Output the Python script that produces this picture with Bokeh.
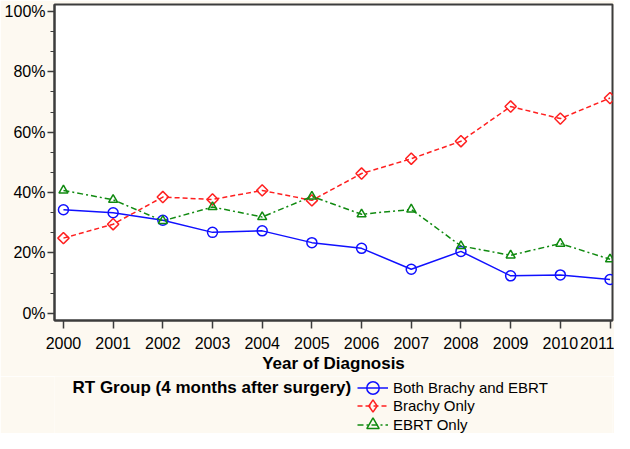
import math
from bokeh.plotting import figure
from bokeh.layouts import column
from bokeh.models import Legend, LegendItem, FixedTicker, Range1d, CustomJSTickFormatter, Label
from bokeh.embed import file_html
from bokeh.resources import INLINE

years = list(range(2000, 2012))
both = [34.3, 33.3, 30.8, 26.8, 27.3, 23.4, 21.5, 14.6, 20.5, 12.4, 12.7, 11.2]
brachy = [24.9, 29.5, 38.5, 37.7, 40.7, 37.4, 46.3, 51.2, 57.0, 68.5, 64.5, 71.3]
ebrt = [40.7, 37.6, 30.6, 35.2, 31.9, 38.7, 32.8, 34.4, 22.3, 19.2, 23.1, 17.9]
y_ticks = [0, 20, 40, 60, 80, 100]
series_names = ["Both Brachy and EBRT", "Brachy Only", "EBRT Only"]
legend_title = "RT Group (4 months after surgery)"
x_title = "Year of Diagnosis"

BG = "#fdf9f1"
FONT = "Liberation Sans"

p = figure(width=614, height=376, output_backend="svg", toolbar_location=None,
           x_range=Range1d(1999.82, 2011.05), y_range=Range1d(-2.4, 102.3),
           min_border_left=54, min_border_right=2, min_border_top=4, min_border_bottom=56)
p.border_fill_color = BG
p.background_fill_color = "white"
p.outline_line_color = "#3c3c3c"
p.outline_line_width = 2
p.grid.visible = False

minor = []
for a, b in zip(y_ticks[:-1], y_ticks[1:]):
    minor += [a + (b - a) / 3, a + 2 * (b - a) / 3]
p.yaxis.ticker = FixedTicker(ticks=y_ticks, minor_ticks=minor)
p.yaxis.formatter = CustomJSTickFormatter(code="return tick.toFixed(0) + '%';")
p.xaxis.ticker = FixedTicker(ticks=years)
for ax in (p.xaxis, p.yaxis):
    ax.axis_line_color = "#3c3c3c"
    ax.axis_line_width = 2
    ax.major_tick_line_color = "#3c3c3c"
    ax.major_tick_line_width = 1.5
    ax.minor_tick_line_color = "#3c3c3c"
    ax.major_tick_in = 0
    ax.minor_tick_in = 0
    ax.major_label_text_font = FONT
    ax.major_label_text_font_size = "16px"
    ax.major_label_text_color = "black"
p.yaxis.major_tick_out = 7
p.yaxis.minor_tick_out = 4
p.yaxis.major_label_standoff = 2
p.xaxis.major_tick_out = 8
p.xaxis.minor_tick_out = 0
p.xaxis.major_label_standoff = 8
p.xaxis.axis_label = x_title
p.xaxis.axis_label_text_font = FONT
p.xaxis.axis_label_text_font_size = "17px"
p.xaxis.axis_label_text_font_style = "bold"
p.xaxis.axis_label_text_color = "black"
p.xaxis.axis_label_standoff = 2

styles = [
    dict(color="#1010ff", dash="solid", marker="circle", lmarker="circle", size=10, angle=0),
    dict(color="#ff2020", dash="5 3", marker="square", lmarker="diamond", size=8, angle=math.pi / 4),
    dict(color="#108a10", dash="6 3 2 3", marker="triangle", lmarker="triangle", size=9, angle=0),
]
series = [both, brachy, ebrt]
for vals, st in zip(series, styles):
    p.line(years, vals, line_color=st["color"], line_width=1.5, line_dash=st["dash"])
    p.scatter(years, vals, marker=st["marker"], size=st["size"], angle=st["angle"],
              line_color=st["color"], line_width=1.5, fill_color=None)

# legend strip below the chart (its ranges keep the series out of view; only the legend shows)
STRIP_H = 57
p2 = figure(width=614, height=STRIP_H, output_backend="svg", toolbar_location=None,
            x_range=Range1d(0, 1), y_range=Range1d(0, 1), x_axis_type=None, y_axis_type=None,
            min_border=0)
p2.border_fill_color = BG
p2.background_fill_color = BG
p2.outline_line_color = None
p2.grid.visible = False

ROW_H = 33
row_centers = [11, 29.5, 48]
for name, vals, st, rc in zip(series_names, series, styles, row_centers):
    l = p2.line(years, vals, line_color=st["color"], line_width=1.5, line_dash=st["dash"])
    s = p2.scatter(years, vals, marker=st["lmarker"], size=10,
                   line_color=st["color"], line_width=1.5, fill_color=None)
    leg = Legend(items=[LegendItem(label=name, renderers=[l, s])],
                 location=(303, STRIP_H - rc - ROW_H / 2), orientation="vertical")
    leg.label_text_font = FONT
    leg.label_text_font_size = "15px"
    leg.label_text_color = "black"
    leg.glyph_width = 31
    leg.glyph_height = ROW_H
    leg.label_height = ROW_H
    leg.spacing = 0
    leg.padding = 0
    leg.margin = 0
    leg.border_line_color = None
    leg.background_fill_alpha = 0
    leg.label_standoff = 5
    p2.add_layout(leg, "center")

title = Label(x=18, y=STRIP_H - row_centers[0], x_units="screen", y_units="screen",
              text=legend_title, text_font=FONT, text_font_size="17px",
              text_font_style="bold", text_color="black",
              text_baseline="middle", text_align="left")
p2.add_layout(title)

layout = column(p, p2, spacing=0)
open("out.html", "w").write(file_html(layout, INLINE))
